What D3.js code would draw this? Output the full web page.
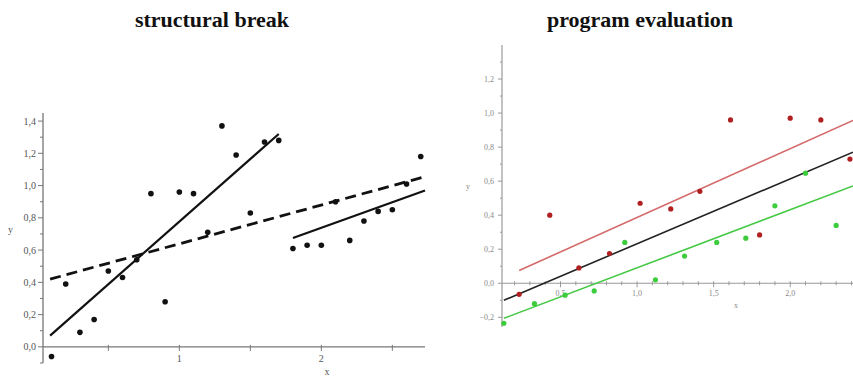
<!DOCTYPE html>
<html>
<head>
<meta charset="utf-8">
<script src="https://cdn.jsdelivr.net/npm/d3@7"></script>
<style>
  body { margin: 0; background: #fff; }
  .title { font-family: "Liberation Serif", "Times New Roman", serif; font-weight: bold; font-size: 22px; fill: #111; }
  .tick-l { font-family: "Liberation Serif", serif; font-size: 10px; fill: #555; }
  .tick-r { font-family: "Liberation Serif", serif; font-size: 8px; fill: #888; }
</style>
</head>
<body>
<div id="chart"></div>
<script>
// Data: structural break (left)
const breakX = [0.1, 0.2, 0.3, 0.4, 0.5, 0.6, 0.7, 0.8, 0.9, 1.0, 1.1, 1.2, 1.3, 1.4,
                1.5, 1.6, 1.7, 1.8, 1.9, 2.0, 2.1, 2.2, 2.3, 2.4, 2.5, 2.6, 2.7];
const breakY = [-0.06, 0.39, 0.09, 0.17, 0.47, 0.43, 0.54, 0.95, 0.28, 0.96, 0.95, 0.71, 1.37, 1.19,
                0.83, 1.27, 1.28, 0.61, 0.63, 0.63, 0.90, 0.66, 0.78, 0.84, 0.85, 1.01, 1.18];
// fitted lines: [x start, x end, y start, y end]
const breakFitA = [0.09, 1.7, 0.07, 1.32];
const breakFitB = [1.8, 2.73, 0.675, 0.97];
const breakFitAll = [0.09, 2.73, 0.42, 1.055];

// Data: program evaluation (right)
const progX = [0.13, 0.23, 0.33, 0.43, 0.53, 0.62, 0.72, 0.82, 0.92, 1.02, 1.12, 1.22,
               1.31, 1.41, 1.52, 1.61, 1.71, 1.80, 1.90, 2.00, 2.10, 2.20, 2.30, 2.39];
const progY = [-0.235, -0.065, -0.12, 0.40, -0.07, 0.09, -0.045, 0.175, 0.24, 0.47, 0.02, 0.437,
               0.16, 0.54, 0.24, 0.96, 0.265, 0.284, 0.455, 0.97, 0.647, 0.96, 0.34, 0.73];
const progGroup = ['c', 't', 'c', 't', 'c', 't', 'c', 't', 'c', 't', 'c', 't',
                   'c', 't', 'c', 't', 'c', 't', 'c', 't', 'c', 't', 'c', 't'];
const progFitTreated = [0.23, 2.41, 0.075, 0.957];
const progFitAll = [0.13, 2.41, -0.10, 0.77];
const progFitControl = [0.13, 2.41, -0.206, 0.572];

const W = 853, H = 380;
const commaFmt = d3.formatLocale({decimal: ",", thousands: ".", grouping: [3], currency: ["", ""]});
const f1 = commaFmt.format(".1f");

const svg = d3.select('#chart').append('svg')
    .attr('width', W).attr('height', H);

// Titles
svg.append('text').attr('class', 'title').attr('x', 212).attr('y', 27)
    .attr('text-anchor', 'middle').text('structural break');
svg.append('text').attr('class', 'title').attr('x', 640).attr('y', 27)
    .attr('text-anchor', 'middle').text('program evaluation');

// ---------- Left panel ----------
const xL = d3.scaleLinear().domain([0.04, 2.73]).range([43, 425]);
const yL = d3.scaleLinear().domain([-0.1, 1.45]).range([363, 113]);
const left = svg.append('g');
const axisColL = '#777';

// y axis
left.append('line').attr('x1', xL(0.04)).attr('x2', xL(0.04))
    .attr('y1', yL(-0.1)).attr('y2', yL(1.45))
    .attr('stroke', axisColL).attr('stroke-width', 1.3);
d3.range(-0.1, 1.46, 0.1).forEach(v => {
    const major = Math.abs(Math.round(v * 10) % 2) === 0;
    left.append('line').attr('x1', xL(0.04) - (major ? 5 : 3)).attr('x2', xL(0.04))
        .attr('y1', yL(v)).attr('y2', yL(v)).attr('stroke', axisColL);
});
d3.range(0, 1.41, 0.2).forEach(v => {
    left.append('text').attr('class', 'tick-l')
        .attr('x', xL(0.04) - 7).attr('y', yL(v) + 3.5)
        .attr('text-anchor', 'end').text(f1(v));
});
left.append('text').attr('class', 'tick-l').attr('x', 8).attr('y', 233).text('y');

// x axis
left.append('line').attr('x1', xL(0.04)).attr('x2', xL(2.73))
    .attr('y1', yL(0)).attr('y2', yL(0))
    .attr('stroke', axisColL).attr('stroke-width', 1.3);
[0.5, 1, 1.5, 2, 2.5].forEach(v => {
    left.append('line').attr('x1', xL(v)).attr('x2', xL(v))
        .attr('y1', yL(0) - 2).attr('y2', yL(0) + 4).attr('stroke', axisColL);
});
[1, 2].forEach(v => {
    left.append('text').attr('class', 'tick-l').attr('x', xL(v)).attr('y', yL(0) + 15)
        .attr('text-anchor', 'middle').text(v);
});
left.append('text').attr('class', 'tick-l').attr('x', 327).attr('y', 375)
    .attr('text-anchor', 'middle').text('x');

// fitted lines
[breakFitA, breakFitB].forEach(f => {
    left.append('line').attr('x1', xL(f[0])).attr('x2', xL(f[1]))
        .attr('y1', yL(f[2])).attr('y2', yL(f[3]))
        .attr('stroke', '#111').attr('stroke-width', 2.2);
});
left.append('line').attr('x1', xL(breakFitAll[0])).attr('x2', xL(breakFitAll[1]))
    .attr('y1', yL(breakFitAll[2])).attr('y2', yL(breakFitAll[3]))
    .attr('stroke', '#111').attr('stroke-width', 2.8).attr('stroke-dasharray', '11,6');

// points
left.selectAll('circle').data(breakX).join('circle')
    .attr('cx', d => xL(d)).attr('cy', (d, i) => yL(breakY[i]))
    .attr('r', 2.8).attr('fill', '#111');

// ---------- Right panel ----------
const xR = d3.scaleLinear().domain([0.118, 2.41]).range([502, 853]);
const yR = d3.scaleLinear().domain([-0.257, 1.4]).range([327, 45]);
const right = svg.append('g');
const axisColR = '#999';

right.append('line').attr('x1', xR(0.118)).attr('x2', xR(0.118))
    .attr('y1', yR(-0.257)).attr('y2', yR(1.4))
    .attr('stroke', axisColR).attr('stroke-width', 1.2);
d3.range(-0.2, 1.35, 0.1).forEach(v => {
    const major = Math.abs(Math.round(v * 10) % 2) === 0;
    right.append('line').attr('x1', xR(0.118) - (major ? 4 : 2)).attr('x2', xR(0.118))
        .attr('y1', yR(v)).attr('y2', yR(v)).attr('stroke', axisColR);
});
d3.range(-0.2, 1.21, 0.2).forEach(v => {
    right.append('text').attr('class', 'tick-r')
        .attr('x', xR(0.118) - 8).attr('y', yR(v) + 3)
        .attr('text-anchor', 'end').text(f1(v));
});
right.append('text').attr('class', 'tick-r').attr('x', 466).attr('y', 189).text('y');

right.append('line').attr('x1', xR(0.118)).attr('x2', xR(2.41))
    .attr('y1', yR(0)).attr('y2', yR(0))
    .attr('stroke', axisColR).attr('stroke-width', 1.2);
d3.range(0.2, 2.41, 0.1).forEach(v => {
    const major = Math.abs(Math.round(v * 10) % 5) === 0;
    right.append('line').attr('x1', xR(v)).attr('x2', xR(v))
        .attr('y1', yR(0) - 2).attr('y2', yR(0) + (major ? 4 : 2)).attr('stroke', axisColR);
});
[0.5, 1.0, 1.5, 2.0].forEach(v => {
    right.append('text').attr('class', 'tick-r').attr('x', xR(v)).attr('y', yR(0) + 13)
        .attr('text-anchor', 'middle').text(f1(v));
});
right.append('text').attr('class', 'tick-r').attr('x', 736).attr('y', 308)
    .attr('text-anchor', 'middle').text('x');

// fitted lines
const progFits = [
    {f: progFitTreated, c: '#d46a6a'},
    {f: progFitAll, c: '#222'},
    {f: progFitControl, c: '#45c945'}
];
progFits.forEach(p => {
    right.append('line').attr('x1', xR(p.f[0])).attr('x2', xR(p.f[1]))
        .attr('y1', yR(p.f[2])).attr('y2', yR(p.f[3]))
        .attr('stroke', p.c).attr('stroke-width', 1.6);
});

right.selectAll('circle').data(progX).join('circle')
    .attr('cx', d => xR(d)).attr('cy', (d, i) => yR(progY[i]))
    .attr('r', 2.6)
    .attr('fill', (d, i) => progGroup[i] === 't' ? '#b02020' : '#3ccc3c');
</script>
</body>
</html>
